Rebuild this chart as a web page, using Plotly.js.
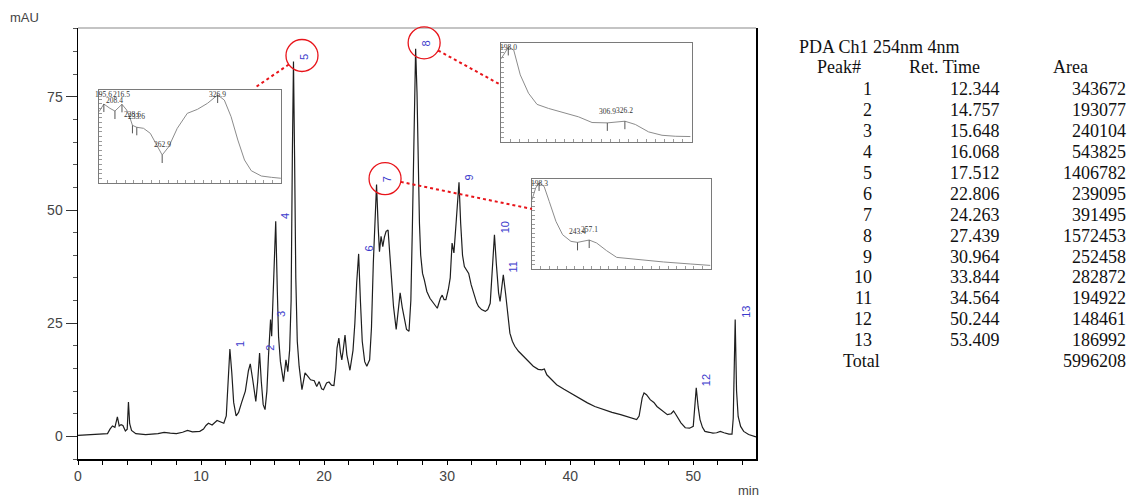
<!DOCTYPE html>
<html>
<head>
<meta charset="utf-8">
<script src="https://cdn.plot.ly/plotly-3.0.1.min.js"></script>
<style>
  html, body { margin: 0; padding: 0; background: #fff; }
  #chart { width: 1132px; height: 497px; }
</style>
</head>
<body>
<div id="chart"></div>
<script>
// ---- Chromatogram (PDA Ch1 254 nm), retention time in min vs. absorbance in mAU ----
const TIME = [
  0.0, 1.0, 2.0, 2.4, 2.6, 2.8, 3.0, 3.2, 3.35, 3.5,
  3.65, 3.85, 4.0, 4.1, 4.2, 4.35, 4.7, 5.5, 6.5, 7.0,
  7.5, 8.0, 8.5, 8.9, 9.3, 9.9, 10.2, 10.4, 10.6, 10.9,
  11.3, 11.6, 11.85, 12.05, 12.2, 12.344, 12.5, 12.65, 12.85, 13.05,
  13.3, 13.6, 13.85, 14.0, 14.2, 14.45, 14.6, 14.757, 14.9, 15.05,
  15.2, 15.35, 15.48, 15.648, 15.74, 15.85, 16.068, 16.2, 16.3, 16.45,
  16.7, 16.9, 17.05, 17.2, 17.32, 17.42, 17.512, 17.6, 17.7, 17.82,
  17.97, 18.2, 18.45, 18.7, 18.9, 19.2, 19.4, 19.6, 19.8, 19.95,
  20.2, 20.4, 20.6, 20.8, 20.95, 21.05, 21.2, 21.33, 21.44, 21.55,
  21.7, 21.85, 22.1, 22.35, 22.5, 22.65, 22.806, 22.95, 23.1, 23.3,
  23.47, 23.7, 23.85, 24.0, 24.263, 24.4, 24.5, 24.63, 24.77, 24.9,
  25.04, 25.2, 25.37, 25.5, 25.64, 25.86, 26.0, 26.18, 26.35, 26.5,
  26.7, 26.9, 27.05, 27.17, 27.3, 27.439, 27.55, 27.65, 27.75, 27.85,
  28.0, 28.15, 28.35, 28.6, 28.9, 29.2, 29.45, 29.6, 29.75, 29.9,
  30.1, 30.25, 30.4, 30.55, 30.75, 30.964, 31.1, 31.25, 31.4, 31.6,
  31.75, 31.95, 32.15, 32.4, 32.55, 32.8, 33.1, 33.3, 33.5, 33.65,
  33.844, 34.0, 34.18, 34.3, 34.564, 34.75, 34.85, 35.1, 35.3, 35.5,
  35.8, 36.2, 36.6, 37.0, 37.4, 37.7, 37.9, 38.1, 38.5, 38.9,
  39.5, 40.0, 40.7, 41.4, 42.0, 42.7, 43.4, 44.1, 44.8, 45.4,
  45.6, 45.85, 46.0, 46.2, 46.5, 46.8, 47.05, 47.4, 47.6, 47.9,
  48.2, 48.4, 48.55, 48.8, 49.0, 49.35, 49.7, 50.0, 50.1, 50.244,
  50.4, 50.55, 50.75, 50.95, 51.3, 51.6, 51.9, 52.2, 52.5, 52.9,
  53.15, 53.25, 53.409, 53.52, 53.65, 53.85, 54.1, 54.5, 55.1
];
const MAU = [
  0.2, 0.3, 0.4, 0.6, 1.6, 2.3, 2.0, 4.3, 2.3, 2.6,
  2.4, 1.2, 1.6, 7.6, 2.8, 1.3, 0.6, 0.4, 0.6, 0.9,
  0.7, 0.6, 0.9, 1.3, 1.0, 1.1, 1.6, 2.4, 2.9, 2.5,
  3.5, 3.2, 2.9, 4.5, 13.0, 19.3, 14.0, 7.5, 4.5, 5.3,
  7.5, 10.0, 14.5, 16.0, 12.5, 7.7, 12.0, 18.4, 12.0, 7.0,
  5.9, 10.0, 17.7, 25.8, 22.1, 30.0, 47.5, 32.0, 22.0, 16.5,
  12.1, 16.9, 14.3, 19.1, 30.0, 62.0, 82.8, 62.0, 35.0, 21.0,
  15.5, 10.3, 14.0, 13.2, 12.5, 12.3, 11.0, 12.1, 10.5, 10.3,
  11.8, 12.0, 11.3, 11.2, 15.0, 19.5, 21.7, 18.5, 16.9, 19.0,
  22.4, 18.0, 14.6, 19.0, 25.0, 34.0, 40.3, 30.0, 21.0, 16.5,
  15.5, 16.9, 24.0, 38.3, 55.6, 46.0, 40.8, 44.2, 41.9, 44.0,
  45.3, 45.6, 39.0, 33.0, 28.7, 23.6, 27.0, 31.7, 28.5, 26.5,
  23.6, 23.2, 30.0, 45.6, 70.0, 85.6, 76.0, 60.0, 47.0, 40.0,
  36.0, 34.5, 32.0, 30.5, 29.5, 28.3, 30.5, 31.2, 30.2, 30.2,
  32.5, 35.0, 42.7, 40.5, 48.0, 56.1, 47.0, 40.0, 37.5, 36.5,
  36.0, 33.5, 31.7, 29.5, 28.7, 28.0, 27.6, 28.0, 29.4, 35.0,
  44.5, 38.0, 31.7, 29.8, 35.7, 31.5, 28.7, 22.8, 21.0, 19.9,
  18.8, 17.7, 16.5, 15.5, 14.8, 14.7, 14.9, 13.6, 12.5, 11.4,
  10.4, 9.6, 8.4, 7.4, 6.6, 5.9, 5.3, 4.8, 4.2, 3.7,
  4.5, 8.5, 9.6, 9.2, 8.1, 7.5, 6.6, 5.8, 5.5, 4.8,
  5.0, 5.6, 5.0, 3.7, 3.0, 1.9, 1.8, 2.2, 5.0, 10.7,
  6.5, 3.7, 2.0, 1.1, 0.9, 0.7, 0.8, 1.1, 0.8, 0.5,
  0.5, 4.0, 25.8, 10.0, 4.4, 2.2, 1.1, 0.4, -0.1
];

// ---- Peak table ----
const PEAK_NO  = [1, 2, 3, 4, 5, 6, 7, 8, 9, 10, 11, 12, 13];
const RET_TIME = [12.344, 14.757, 15.648, 16.068, 17.512, 22.806, 24.263, 27.439, 30.964, 33.844, 34.564, 50.244, 53.409];
const AREA     = [343672, 193077, 240104, 543825, 1406782, 239095, 391495, 1572453, 252458, 282872, 194922, 148461, 186992];
const TABLE_TITLE = 'PDA Ch1 254nm 4nm';
const TABLE_HEAD  = ['Peak#', 'Ret. Time', 'Area'];

// ---- UV spectra (190-400 nm) of peaks 5, 8 and 7, relative absorbance ----
const SPEC5_NM  = [190.1, 195.6, 202.6, 208.4, 216.5, 221.9, 225.9, 228.6, 233.6, 241.4, 249.2, 257.0, 262.9, 270.5, 280.3, 291.9, 303.6, 315.2, 326.9, 334.6, 342.4, 350.2, 357.9, 365.7, 377.3, 389.0, 399.8];
const SPEC5_ABS = [76.7, 84.9, 80.3, 77.4, 84.6, 78.5, 69.6, 62.0, 59.9, 58.8, 53.4, 40.9, 30.1, 39.0, 58.8, 74.9, 79.2, 85.7, 94.6, 89.2, 71.3, 46.2, 24.7, 13.2, 7.5, 6.1, 5.1];
const SPEC5_MARKS = ['195.6', '208.4', '216.5', '228.6', '233.6', '262.9', '326.9'];

const SPEC8_NM  = [190.0, 194.7, 198.0, 203.9, 211.2, 220.3, 229.6, 242.3, 257.1, 275.3, 290.1, 306.9, 326.2, 337.7, 352.3, 367.0, 381.6, 398.2];
const SPEC8_ABS = [84.0, 91.5, 95.5, 93.2, 67.8, 49.2, 38.0, 33.9, 29.9, 25.4, 19.7, 19.3, 21.0, 17.7, 10.2, 6.8, 5.8, 5.5];
const SPEC8_MARKS = ['198.0', '306.9', '326.2'];

const SPEC7_NM  = [190.0, 194.3, 198.3, 204.2, 210.2, 218.1, 225.9, 235.7, 243.4, 257.1, 265.8, 277.6, 289.4, 305.0, 344.3, 375.6, 399.1];
const SPEC7_ABS = [77.0, 90.0, 95.6, 91.8, 75.1, 52.9, 38.1, 30.7, 29.6, 32.2, 28.9, 20.3, 12.9, 11.4, 7.8, 5.6, 4.0];
const SPEC7_MARKS = ['198.3', '243.4', '257.1'];

// ---- Layout geometry ----
const W = 1132, H = 497;
const M = { l: 78, r: 376, t: 28, b: 38 };
const PW = W - M.l - M.r, PH = H - M.t - M.b;
const X_RANGE = [0, 55.1];
const Y_RANGE = [-5, 90.2];
const NM_RANGE = [190, 400];
const ABS_RANGE = [0, 100];

const px2paperX = px => (px - M.l) / PW;
const px2paperY = py => (H - M.b - py) / PH;
const data2paperX = t => (t - X_RANGE[0]) / (X_RANGE[1] - X_RANGE[0]);
const data2paperY = v => (v - Y_RANGE[0]) / (Y_RANGE[1] - Y_RANGE[0]);

function interp(xs, ys, x) {
  for (let i = 0; i < xs.length - 1; i++) {
    if (x >= xs[i] && x <= xs[i + 1]) {
      const f = (x - xs[i]) / (xs[i + 1] - xs[i]);
      return ys[i] + f * (ys[i + 1] - ys[i]);
    }
  }
  return ys[ys.length - 1];
}

const peakHeight = rt => interp(TIME, MAU, rt);

const LABEL_BLUE = '#3b3bcc';
const RED = '#e8141a';

const traces = [{
  type: 'scatter', mode: 'lines', x: TIME, y: MAU,
  line: { color: '#1e1e1e', width: 1.2 },
  hoverinfo: 'skip', xaxis: 'x', yaxis: 'y'
}];

const annotations = [];
const shapes = [];

// paper-anchored text helper (explicit anchors, no 'auto' placement)
function paperText(px, py, text, font, xanchor) {
  annotations.push({ xref: 'paper', yref: 'paper', x: px2paperX(px), y: px2paperY(py),
    xanchor: xanchor || 'center', yanchor: 'middle', text: text, showarrow: false, font: font });
}

// frame line along the top edge of the plot area
shapes.push({ type: 'line', xref: 'paper', yref: 'paper', x0: 0, x1: 1, y0: 1, y1: 1,
  line: { color: '#8a8a8a', width: 1.2 } });

// axis units
const UNIT_FONT = { family: 'Liberation Sans, Arial, sans-serif', size: 13, color: '#444' };
paperText(24, 17, 'mAU', UNIT_FONT);
paperText(748, 490, 'min', UNIT_FONT);

// peak numbers, rotated, just right of each apex
PEAK_NO.forEach((no, i) => {
  annotations.push({
    xref: 'x', yref: 'y', x: RET_TIME[i], y: peakHeight(RET_TIME[i]),
    text: String(no), textangle: -90, showarrow: false,
    xanchor: 'left', yanchor: 'bottom', xshift: 2, yshift: 0,
    font: { family: 'Liberation Sans, Arial, sans-serif', size: 11, color: LABEL_BLUE }
  });
});

// ---- UV spectrum insets ----
const INSETS = [
  { peak: 5, box: [99, 90, 281, 183], nm: SPEC5_NM, abs: SPEC5_ABS, marks: SPEC5_MARKS, link: [0.853, -0.02] },
  { peak: 8, box: [501, 43, 692, 142], nm: SPEC8_NM, abs: SPEC8_ABS, marks: SPEC8_MARKS, link: [0, 0.424] },
  { peak: 7, box: [532, 179, 711, 269], nm: SPEC7_NM, abs: SPEC7_ABS, marks: SPEC7_MARKS, link: [0, 0.333] }
];

const layout = {
  width: W, height: H,
  margin: M,
  paper_bgcolor: '#fff', plot_bgcolor: '#fff',
  showlegend: false, hovermode: false,
  xaxis: {
    range: X_RANGE, domain: [0, 1], anchor: 'y',
    showline: true, linecolor: '#000', linewidth: 1.5, mirror: false,
    ticks: 'outside', ticklen: 4, tickwidth: 1, tickcolor: '#000',
    tick0: 0, dtick: 10,
    minor: { tick0: 0, dtick: 2, ticks: 'outside', ticklen: 4, tickcolor: '#000', tickwidth: 1 },
    showgrid: false, zeroline: false,
    tickfont: { family: 'Liberation Sans, Arial, sans-serif', size: 14, color: '#444' }
  },
  yaxis: {
    range: Y_RANGE, domain: [0, 1], anchor: 'x',
    showline: true, linecolor: '#000', linewidth: 1.5, mirror: true,
    ticks: 'outside', ticklen: 11, tickwidth: 1, tickcolor: '#333',
    tick0: 0, dtick: 25,
    minor: { tick0: 0, dtick: 5, ticks: 'outside', ticklen: 4, tickcolor: '#555', tickwidth: 1 },
    showgrid: false, zeroline: false,
    tickfont: { family: 'Liberation Sans, Arial, sans-serif', size: 14, color: '#444' }
  },
  annotations: annotations,
  shapes: shapes
};

const CIRCLE_R = 16, CIRCLE_DX = 8.5, CIRCLE_DY = 6;

INSETS.forEach((ins, k) => {
  const n = k + 2;
  const [bx0, by0, bx1, by1] = ins.box;
  const hpx = by1 - by0;
  layout['xaxis' + n] = {
    domain: [px2paperX(bx0), px2paperX(bx1)], range: NM_RANGE, anchor: 'y' + n,
    showline: true, mirror: true, linecolor: '#7a7a7a', linewidth: 1,
    ticks: 'inside', ticklen: 3, tickcolor: '#9a9a9a', tick0: 190, dtick: 10,
    showticklabels: false, showgrid: false, zeroline: false
  };
  layout['yaxis' + n] = {
    domain: [px2paperY(by1), px2paperY(by0)], range: ABS_RANGE, anchor: 'x' + n,
    showline: true, mirror: true, linecolor: '#7a7a7a', linewidth: 1,
    ticks: 'inside', ticklen: 3, tickcolor: '#9a9a9a', tick0: 0, dtick: 5,
    showticklabels: false, showgrid: false, zeroline: false
  };
  traces.push({
    type: 'scatter', mode: 'lines', x: ins.nm, y: ins.abs,
    xaxis: 'x' + n, yaxis: 'y' + n,
    line: { color: '#8c8c8c', width: 1 }, hoverinfo: 'skip'
  });

  // wavelength marks: tick below the curve, value above it
  ins.marks.forEach(label => {
    const wl = parseFloat(label);
    const v = interp(ins.nm, ins.abs, wl);
    shapes.push({
      type: 'line', xref: 'x' + n, yref: 'y' + n, ysizemode: 'pixel',
      x0: wl, x1: wl, yanchor: v, y0: -8, y1: 0,
      line: { color: '#555', width: 1 }
    });
    const roomPx = (ABS_RANGE[1] - v) / (ABS_RANGE[1] - ABS_RANGE[0]) * hpx;
    annotations.push({
      xref: 'x' + n, yref: 'y' + n, x: wl, y: v, text: label, showarrow: false,
      xanchor: 'center', yanchor: 'middle',
      yshift: Math.min(11, roomPx - 4.5),
      font: { family: 'Liberation Serif, Times New Roman, serif', size: 7.5, color: '#333' }
    });
  });

  // red circle around the peak number, dotted link to its spectrum
  const pi = PEAK_NO.indexOf(ins.peak);
  const rt = RET_TIME[pi];
  const cx = data2paperX(rt) + CIRCLE_DX / PW;
  const cy = data2paperY(peakHeight(rt)) + CIRCLE_DY / PH;
  shapes.push({
    type: 'circle', xref: 'paper', yref: 'paper',
    x0: cx - CIRCLE_R / PW, x1: cx + CIRCLE_R / PW,
    y0: cy - CIRCLE_R / PH, y1: cy + CIRCLE_R / PH,
    line: { color: RED, width: 1.3 }
  });
  const lx = px2paperX(bx0 + ins.link[0] * (bx1 - bx0));
  const ly = px2paperY(by0 + ins.link[1] * (by1 - by0));
  const dxp = (lx - cx) * PW, dyp = (ly - cy) * PH;
  const d = Math.hypot(dxp, dyp);
  shapes.push({
    type: 'line', xref: 'paper', yref: 'paper',
    x0: cx + (dxp / d) * CIRCLE_R / PW, y0: cy + (dyp / d) * CIRCLE_R / PH,
    x1: lx, y1: ly,
    line: { color: RED, width: 2, dash: 'dot' }
  });
});

// ---- Peak table at the right ----
const TABLE_FONT = { family: 'Liberation Serif, Times New Roman, serif', size: 18, color: '#111' };
const ROW0 = 89.3, ROW_H = 20.9;
const COL_RIGHT = [874.3, 1001.7, 1128.3];
const HEAD_CENTER = [839.2, 944.2, 1070.8];
paperText(797, 46.7, TABLE_TITLE, TABLE_FONT, 'left');
TABLE_HEAD.forEach((h, j) => paperText(HEAD_CENTER[j], 66.7, h, TABLE_FONT, 'center'));
PEAK_NO.forEach((no, i) => {
  const py = ROW0 + i * ROW_H;
  const cells = [String(no), RET_TIME[i].toFixed(3), String(AREA[i])];
  cells.forEach((c, j) => paperText(COL_RIGHT[j], py, c, TABLE_FONT, 'right'));
});
const totalPy = ROW0 + PEAK_NO.length * ROW_H;
paperText(861.7, totalPy, 'Total', TABLE_FONT, 'center');
paperText(COL_RIGHT[2], totalPy, String(AREA.reduce((a, b) => a + b, 0)), TABLE_FONT, 'right');

Plotly.newPlot('chart', traces, layout, { staticPlot: true, displayModeBar: false });
</script>
</body>
</html>
